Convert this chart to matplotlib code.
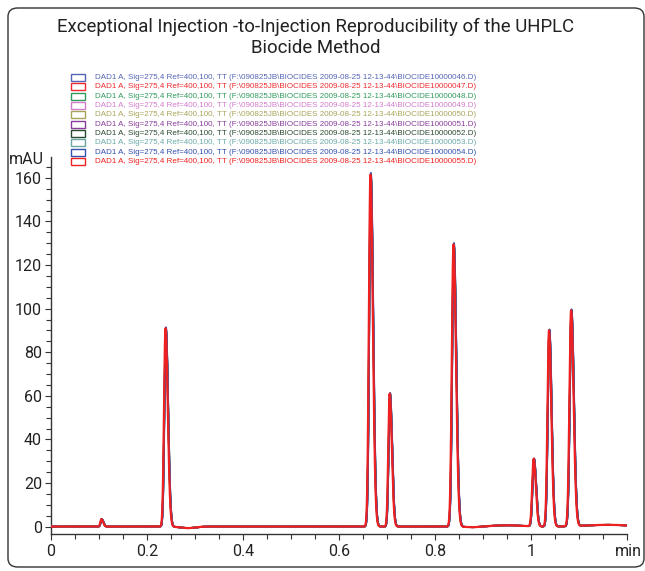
import numpy as np
import matplotlib
matplotlib.use("Agg")
import matplotlib.pyplot as plt
from matplotlib.patches import FancyBboxPatch, Rectangle

# ---- data ----
title_lines = ["Exceptional Injection -to-Injection Reproducibility of the UHPLC", "Biocide Method"]

peak_times = [0.105, 0.2385, 0.6655, 0.7055, 0.8385, 1.0055, 1.0375, 1.0835]
peak_heights = [3.4, 91.0, 161.5, 61.0, 129.5, 31.0, 90.0, 99.0]
peak_sigma_left = [0.0022, 0.0030, 0.0032, 0.0028, 0.0034, 0.0030, 0.0032, 0.0034]
peak_sigma_right = [0.0035, 0.0048, 0.0050, 0.0045, 0.0052, 0.0045, 0.0048, 0.0052]

# small baseline features (time, height, width)
base_times = [0.285, 0.88, 0.95, 1.16]
base_heights = [-0.7, -0.3, 0.6, 0.8]
base_widths = [0.015, 0.015, 0.03, 0.045]

injection_files = ["BIOCIDE10000046.D", "BIOCIDE10000047.D", "BIOCIDE10000048.D",
                   "BIOCIDE10000049.D", "BIOCIDE10000050.D", "BIOCIDE10000051.D",
                   "BIOCIDE10000052.D", "BIOCIDE10000053.D", "BIOCIDE10000054.D",
                   "BIOCIDE10000055.D"]
injection_colors = ["#5565b5", "#ee2a30", "#2f9a5c", "#d27ccc", "#a8a55a",
                    "#8a3c9c", "#2c4a30", "#6aa8a8", "#3450b0", "#ee2020"]
injection_shift = [0.0009, 0.0005, 0.0008, 0.0007, 0.0006, 0.0008, 0.0007, 0.0006, 0.0010, 0.0]
injection_scale = [1.0, 1.0, 1.0, 1.0, 1.0, 1.0, 1.0, 1.0, 1.005, 1.0]

x_ticks = [0, 0.2, 0.4, 0.6, 0.8, 1.0, 1.2]
x_tick_labels = ["0", "0.2", "0.4", "0.6", "0.8", "1", ""]
y_ticks = [0, 20, 40, 60, 80, 100, 120, 140, 160]

# ---- figure ----
W, H = 645, 571
fig = plt.figure(figsize=(W / 100, H / 100), dpi=100)
NARROW = ["Roboto", "DejaVu Sans"]
ARIAL = ["Liberation Sans", "DejaVu Sans"]

def fx(px):
    return px / W

def fy(py):
    return 1 - py / H

# rounded frame
frame = FancyBboxPatch((fx(8), fy(567)), fx(636), fy(8) - fy(567),
                       boxstyle="round,pad=0,rounding_size=0.015",
                       transform=fig.transFigure, fill=False,
                       edgecolor="#333333", linewidth=1.0)
fig.patches.append(frame)

# title
fig.text(fx(316), fy(27), title_lines[0], ha="center", va="center",
         fontsize=13.4, family=NARROW, color="#222222")
fig.text(fx(316), fy(48), title_lines[1], ha="center", va="center",
         fontsize=13.4, family=NARROW, color="#222222")

# legend (manual)
for i, (fname, col) in enumerate(zip(injection_files, injection_colors)):
    yc = 77.3 + i * 9.38
    r = Rectangle((fx(71), fy(yc + 3.5)), fx(14), 7 / H, transform=fig.transFigure,
                  fill=False, edgecolor=col, linewidth=1.0)
    fig.patches.append(r)
    label = ("DAD1 A, Sig=275,4 Ref=400,100, TT (F:\\090825JB\\BIOCIDES 2009-08-25 12-13-44\\"
             + fname + ")")
    fig.text(fx(95), fy(yc), label, ha="left", va="center", fontsize=5.75,
             family=ARIAL, color=col)

# axes
ax_left, ax_right = 51, 627
ax_top, ax_bottom = 156.7, 534
ax = fig.add_axes([fx(ax_left), fy(ax_bottom), (ax_right - ax_left) / W,
                   (ax_bottom - ax_top) / H])
ax.set_xlim(0, 1.2)
ax.set_ylim(-3.4, 169.7)
ax.patch.set_alpha(0)

t = np.linspace(0, 1.2, 6001)

def trace(shift, scale):
    y = np.zeros_like(t)
    for t0, h, sl, sr in zip(peak_times, peak_heights, peak_sigma_left, peak_sigma_right):
        c = t0 + shift
        s = np.where(t < c, sl, sr)
        y += h * scale * np.exp(-0.5 * ((t - c) / s) ** 2)
    for t0, h, w in zip(base_times, base_heights, base_widths):
        y += h * np.exp(-0.5 * ((t - t0) / w) ** 2)
    return y

for i, col in enumerate(injection_colors):
    lw = 1.6 if i == len(injection_colors) - 1 else 1.3
    ax.plot(t, trace(injection_shift[i], injection_scale[i]), color=col, lw=lw,
            solid_joinstyle="round", zorder=2 + i)

for s in ["top", "right"]:
    ax.spines[s].set_visible(False)
for s in ["left", "bottom"]:
    ax.spines[s].set_color("#333333")
    ax.spines[s].set_linewidth(1.0)

ax.set_xticks(x_ticks)
ax.set_xticklabels(x_tick_labels)
ax.set_xticks(np.arange(0, 1.2001, 0.05), minor=True)
ax.set_yticks(y_ticks)
ax.set_yticks(np.arange(0, 166, 5), minor=True)
ax.tick_params(which="both", direction="out", color="#333333", width=0.8)
ax.tick_params(which="major", length=4.5)
ax.tick_params(which="minor", length=3.5)
ax.tick_params(axis="y", which="major", pad=2, labelsize=11.5, labelcolor="#222222")
ax.tick_params(axis="x", which="major", pad=3, labelsize=11.5, labelcolor="#222222")
for lab in ax.get_xticklabels() + ax.get_yticklabels():
    lab.set_family(NARROW)

fig.text(fx(44), fy(159), "mAU", ha="right", va="center", fontsize=11.5,
         family=NARROW, color="#222222")
fig.text(fx(615), fy(551), "min", ha="left", va="center", fontsize=11.5,
         family=NARROW, color="#222222")

fig.savefig("out.png", dpi=100)
